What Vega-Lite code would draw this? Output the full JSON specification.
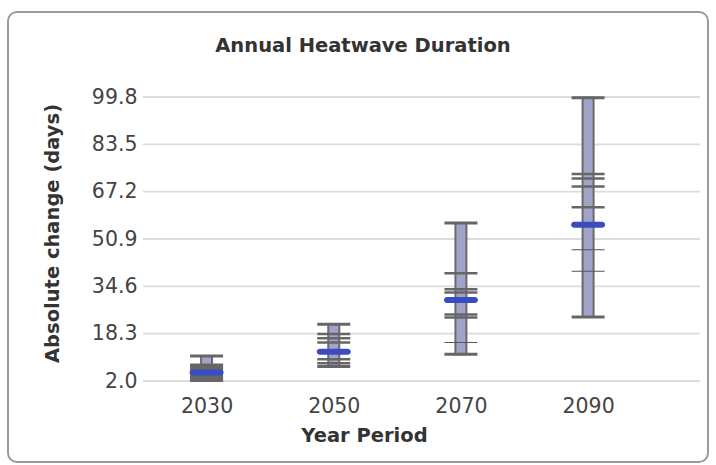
{
  "$schema": "https://vega.github.io/schema/vega-lite/v6.json",
  "width": 700,
  "height": 450,
  "padding": {"left": 8, "top": 12, "right": 8, "bottom": 3},
  "autosize": {"type": "pad"},
  "background": "white",
  "config": {
    "view": {"stroke": "#9a9a9a", "strokeWidth": 2, "cornerRadius": 9, "fill": "white"},
    "font": "DejaVu Sans"
  },
  "title": {
    "text": "Annual Heatwave Duration",
    "fontSize": 19.5,
    "fontWeight": "bold",
    "color": "#333333",
    "anchor": "middle",
    "frame": "group",
    "offset": -44,
    "dx": 5
  },
  "datasets": {
    "grid": [{"g": 2.0}, {"g": 18.3}, {"g": 34.6}, {"g": 50.9}, {"g": 67.2}, {"g": 83.5}, {"g": 99.8}],
    "ranges": [
      {"period": 2030, "min": 2.2, "max": 10.6, "mean": 4.9},
      {"period": 2050, "min": 7.0, "max": 21.5, "mean": 12.1},
      {"period": 2070, "min": 11.2, "max": 56.4, "mean": 29.9},
      {"period": 2090, "min": 24.0, "max": 99.5, "mean": 55.8}
    ],
    "models": [
      {"period": 2030, "value": 7.6, "kind": "thick"},
      {"period": 2030, "value": 7.0, "kind": "thick"},
      {"period": 2030, "value": 6.4, "kind": "thick"},
      {"period": 2030, "value": 5.8, "kind": "thick"},
      {"period": 2030, "value": 4.0, "kind": "thick"},
      {"period": 2030, "value": 3.4, "kind": "thick"},
      {"period": 2030, "value": 2.8, "kind": "thick"},
      {"period": 2050, "value": 18.2, "kind": "thick"},
      {"period": 2050, "value": 16.7, "kind": "thick"},
      {"period": 2050, "value": 15.3, "kind": "thick"},
      {"period": 2050, "value": 9.5, "kind": "thick"},
      {"period": 2050, "value": 8.1, "kind": "thick"},
      {"period": 2070, "value": 39.1, "kind": "thick"},
      {"period": 2070, "value": 33.6, "kind": "thick"},
      {"period": 2070, "value": 32.5, "kind": "thick"},
      {"period": 2070, "value": 24.9, "kind": "thick"},
      {"period": 2070, "value": 23.9, "kind": "thick"},
      {"period": 2070, "value": 15.3, "kind": "thin"},
      {"period": 2090, "value": 73.3, "kind": "thick"},
      {"period": 2090, "value": 71.7, "kind": "thick"},
      {"period": 2090, "value": 69.0, "kind": "thick"},
      {"period": 2090, "value": 61.8, "kind": "thick"},
      {"period": 2090, "value": 47.2, "kind": "thin"},
      {"period": 2090, "value": 39.8, "kind": "thin"}
    ]
  },
  "layer": [
    {
      "data": {"name": "grid"},
      "mark": {"type": "rule", "color": "#dcdcdc", "strokeWidth": 1.8},
      "encoding": {
        "x": {"datum": 2020, "type": "quantitative", "scale": {"domain": [2020, 2107.6], "range": [130, 697], "zero": false, "nice": false}},
        "x2": {"datum": 2107.6},
        "y": {
          "field": "g", "type": "quantitative",
          "scale": {"domain": [2, 99.8], "range": [369, 85], "zero": false, "nice": false},
          "axis": {
            "title": "Absolute change (days)", "values": [2.0, 18.3, 34.6, 50.9, 67.2, 83.5, 99.8], "format": ".1f",
            "grid": false, "domain": false, "ticks": false, "tickSize": 0,
            "offset": -130, "labelPadding": 1, "labelFontSize": 20.5, "labelColor": "#444444",
            "titleFontSize": 19.5, "titleFontWeight": "bold", "titleColor": "#333333", "titlePadding": 9,
            "titleX": -76, "titleY": 221
          }
        }
      }
    },
    {
      "data": {"name": "ranges"},
      "mark": {"type": "bar", "size": 11, "fill": "#a3a3c9", "stroke": "#6a6a6a", "strokeWidth": 2},
      "encoding": {
        "x": {
          "field": "period", "type": "quantitative",
          "scale": {"domain": [2020, 2107.6], "range": [130, 697], "zero": false, "nice": false},
          "axis": {
            "title": "Year Period", "values": [2030, 2050, 2070, 2090], "format": "d",
            "grid": false, "domain": false, "ticks": false, "tickSize": 0,
            "offset": -81, "labelPadding": 15, "labelFontSize": 20.5, "labelColor": "#444444",
            "titleFontSize": 19.5, "titleFontWeight": "bold", "titleColor": "#333333", "titlePadding": 10,
            "titleX": 356
          }
        },
        "y": {"field": "min", "type": "quantitative"},
        "y2": {"field": "max"}
      }
    },
    {
      "data": {"name": "ranges"},
      "mark": {"type": "tick", "orient": "horizontal", "size": 33, "thickness": 3, "color": "#666666", "opacity": 1},
      "encoding": {
        "x": {"field": "period", "type": "quantitative"},
        "y": {"field": "min", "type": "quantitative"}
      }
    },
    {
      "data": {"name": "ranges"},
      "mark": {"type": "tick", "orient": "horizontal", "size": 33, "thickness": 3, "color": "#666666", "opacity": 1},
      "encoding": {
        "x": {"field": "period", "type": "quantitative"},
        "y": {"field": "max", "type": "quantitative"}
      }
    },
    {
      "data": {"name": "models"},
      "transform": [{"filter": "datum.kind === 'thick'"}],
      "mark": {"type": "tick", "orient": "horizontal", "size": 33, "thickness": 2.5, "color": "#666666", "opacity": 1},
      "encoding": {
        "x": {"field": "period", "type": "quantitative"},
        "y": {"field": "value", "type": "quantitative"}
      }
    },
    {
      "data": {"name": "models"},
      "transform": [{"filter": "datum.kind === 'thin'"}],
      "mark": {"type": "tick", "orient": "horizontal", "size": 33, "thickness": 1, "color": "#555555", "opacity": 1},
      "encoding": {
        "x": {"field": "period", "type": "quantitative"},
        "y": {"field": "value", "type": "quantitative"}
      }
    },
    {
      "data": {"name": "ranges"},
      "mark": {"type": "tick", "orient": "horizontal", "size": 34, "thickness": 6, "cornerRadius": 3, "color": "#3a4cc2", "opacity": 1},
      "encoding": {
        "x": {"field": "period", "type": "quantitative"},
        "y": {"field": "mean", "type": "quantitative"}
      }
    }
  ]
}
